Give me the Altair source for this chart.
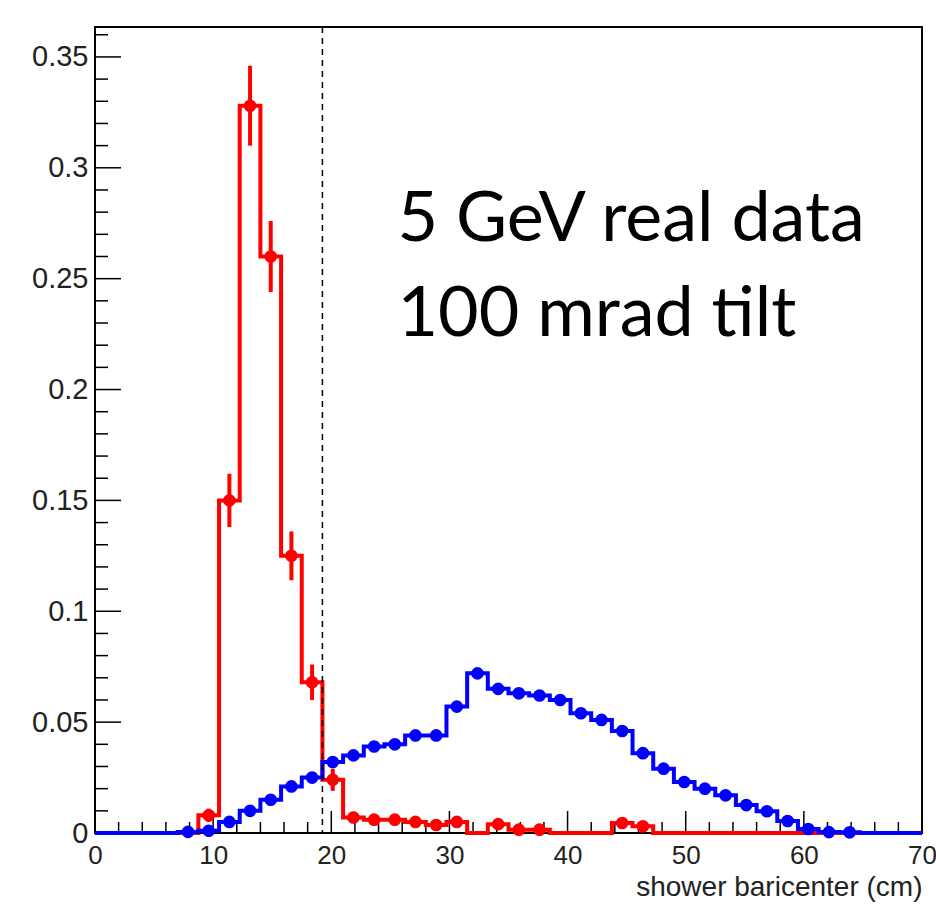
import altair as alt
import numpy as np
import pandas as pd

# Histogram binning: 40 bins of 1.75 cm over 0-70 cm
bin_width = 1.75
n_bins = 40

# Normalised bin contents (bin index 0..39)
red_values = [0, 0, 0, 0, 0, 0.008, 0.150, 0.328, 0.260, 0.125,
              0.068, 0.024, 0.007, 0.006, 0.006, 0.005, 0.0036, 0.005, 0, 0.004,
              0.0015, 0.0015, 0, 0, 0, 0.0045, 0.003, 0, 0, 0,
              0, 0, 0, 0, 0, 0, 0, 0, 0, 0]
red_errors = [0, 0, 0, 0, 0, 0.003, 0.012, 0.018, 0.016, 0.011,
              0.008, 0.005, 0.0026, 0.0025, 0.0025, 0.0022, 0.0019, 0.0022, 0, 0.002,
              0.0012, 0.0012, 0, 0, 0, 0.0021, 0.0017, 0, 0, 0,
              0, 0, 0, 0, 0, 0, 0, 0, 0, 0]
blue_values = [0, 0, 0, 0, 0.0005, 0.001, 0.005, 0.010, 0.015, 0.021,
               0.025, 0.032, 0.035, 0.039, 0.040, 0.044, 0.044, 0.057, 0.072, 0.065,
               0.063, 0.062, 0.060, 0.054, 0.051, 0.046, 0.036, 0.029, 0.023, 0.020,
               0.017, 0.0126, 0.0098, 0.0054, 0.0018, 0.0004, 0.0003, 0, 0, 0]

cut_position = 19.25

x_major_ticks = [0, 10, 20, 30, 40, 50, 60, 70]
x_minor_ticks = [2, 4, 6, 8, 12, 14, 16, 18, 22, 24, 26, 28, 32, 34, 36, 38,
                 42, 44, 46, 48, 52, 54, 56, 58, 62, 64, 66, 68]
y_major_ticks = [0, 0.05, 0.1, 0.15, 0.2, 0.25, 0.3, 0.35]
y_minor_ticks = [0.01, 0.02, 0.03, 0.04, 0.06, 0.07, 0.08, 0.09,
                 0.11, 0.12, 0.13, 0.14, 0.16, 0.17, 0.18, 0.19,
                 0.21, 0.22, 0.23, 0.24, 0.26, 0.27, 0.28, 0.29,
                 0.31, 0.32, 0.33, 0.34, 0.36]

label_lines = ["5 GeV real data", "100 mrad tilt"]
label_x = [25.6, 25.6]
label_y = [0.267, 0.224]

W, H = 827, 806
RED, BLUE = "#ff0000", "#0000ff"
AXIS_FONT = "Liberation Sans"
MARKER = 160

edges = np.arange(n_bins + 1) * bin_width
centers = edges[:-1] + bin_width / 2


def step_frame(values):
    return pd.DataFrame({"x": list(edges), "y": list(values) + [values[-1]]})


red_step = step_frame(red_values)
blue_step = step_frame(blue_values)
red_pts = pd.DataFrame({"x": centers, "y": red_values, "e": red_errors})
red_pts = red_pts[red_pts["y"] > 0].copy()
red_pts["lo"] = red_pts["y"] - red_pts["e"]
red_pts["hi"] = red_pts["y"] + red_pts["e"]
blue_pts = pd.DataFrame({"x": centers, "y": blue_values})
blue_pts = blue_pts[blue_pts["y"] > 0]

xs = alt.Scale(domain=[0, 70], nice=False, zero=False)
ys = alt.Scale(domain=[0, 0.3635], nice=False, zero=False)

x_axis = alt.Axis(values=x_major_ticks, grid=False, ticks=False, domain=False,
                  labelFont=AXIS_FONT, labelFontSize=26, labelColor="#222",
                  labelPadding=9, labelFlush=False,
                  title="shower baricenter (cm)", titleFont=AXIS_FONT,
                  titleFontSize=28, titleFontWeight="normal", titleColor="#222",
                  titleAnchor="end", titlePadding=5)
y_axis = alt.Axis(values=y_major_ticks, grid=False, ticks=False, domain=False,
                  labelFont=AXIS_FONT, labelFontSize=29, labelColor="#222",
                  labelPadding=7, format="~g", labelFlush=False, title=None)


def X(field):
    return alt.X(field, scale=xs, axis=x_axis)


def Y(field):
    return alt.Y(field, scale=ys, axis=y_axis)


red_line = alt.Chart(red_step).mark_line(interpolate="step-after", color=RED,
                                         strokeWidth=4).encode(x=X("x:Q"), y=Y("y:Q"))
red_err = alt.Chart(red_pts).mark_rule(color=RED, strokeWidth=4).encode(
    x=X("x:Q"), y=Y("lo:Q"), y2="hi:Q")
red_dots = alt.Chart(red_pts).mark_circle(color=RED, opacity=1, size=MARKER).encode(
    x=X("x:Q"), y=Y("y:Q"))
blue_line = alt.Chart(blue_step).mark_line(interpolate="step-after", color=BLUE,
                                           strokeWidth=4).encode(x=X("x:Q"), y=Y("y:Q"))
blue_dots = alt.Chart(blue_pts).mark_circle(color=BLUE, opacity=1, size=MARKER).encode(
    x=X("x:Q"), y=Y("y:Q"))

cut_line = alt.Chart(pd.DataFrame({"x": [cut_position]})).mark_rule(
    color="black", strokeWidth=1.5, strokeDash=[6, 5]).encode(
    x=X("x:Q"), y=alt.value(0), y2=alt.value(H))

label = alt.Chart(pd.DataFrame({"t": label_lines, "x": label_x, "y": label_y})).mark_text(
    align="left", baseline="alphabetic", font="Lato",
    fontSize=70, color="black").encode(
    x=X("x:Q"), y=Y("y:Q"), text="t:N")


# Inward tick marks on the left and bottom frame edges
def x_ticks(vals, length):
    return alt.Chart(pd.DataFrame({"x": vals})).mark_rule(
        color="black", strokeWidth=1.5).encode(
        x=X("x:Q"), y=alt.value(H), y2=alt.value(H - length))


def y_ticks(vals, length):
    return alt.Chart(pd.DataFrame({"y": vals})).mark_rule(
        color="black", strokeWidth=1.5).encode(
        y=Y("y:Q"), x=alt.value(0), x2=alt.value(length))


chart = alt.layer(
    x_ticks(x_major_ticks, 22), x_ticks(x_minor_ticks, 11),
    y_ticks(y_major_ticks, 26), y_ticks(y_minor_ticks, 13),
    red_line, red_err, red_dots, blue_line, blue_dots, cut_line, label,
).properties(
    width=W, height=H,
    padding={"left": 95, "top": 27, "right": 14, "bottom": 72},
    autosize=alt.AutoSizeParams(type="none"),
    background="white",
).configure_view(stroke="black", strokeWidth=2)

chart.save("out.html", embed_options={"renderer": "svg", "actions": False})
